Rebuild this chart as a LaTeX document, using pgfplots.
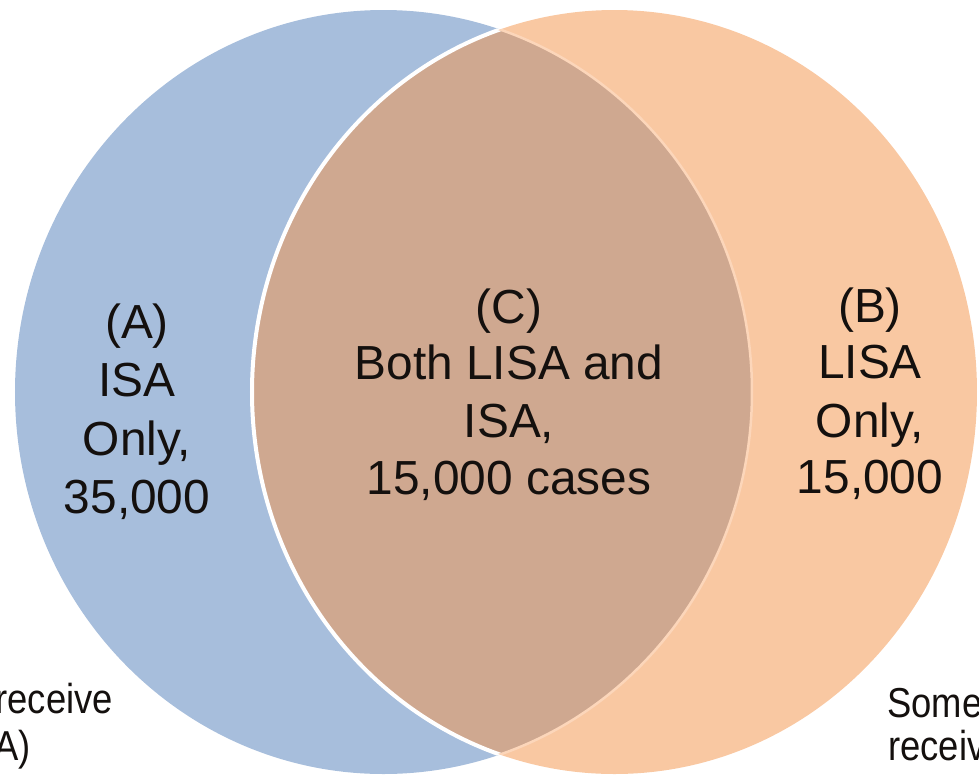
\documentclass[border=0pt]{standalone}
\usepackage{pgfplots}
\pgfplotsset{compat=1.18}
\usepackage{fontspec}
\setmainfont{Liberation Sans}
\definecolor{cblue}{RGB}{167,190,220}
\definecolor{corange}{RGB}{249,200,162}
\definecolor{cboth}{RGB}{207,168,144}
\definecolor{cedge}{RGB}{252,214,186}
\definecolor{ctext}{RGB}{20,16,14}
\newcommand{\regionfont}{\fontsize{48}{57}\selectfont}
\newcommand{\sidefont}{\fontsize{42}{47}\selectfont}
\begin{document}
\begin{tikzpicture}
\useasboundingbox (0,0) rectangle (979bp,776bp);
\clip (0,0) rectangle (979bp,776bp);
\begin{axis}[at={(0,0)}, anchor=south west, x=1bp, y=1bp, y dir=reverse,
  xmin=0, xmax=979, ymin=0, ymax=776, hide axis, clip=false]
% circle A (ISA): centre (383.5,392), radii 368.5 x 382
% circle B (LISA): centre (614.5,392), radii 362.5 x 382
\fill[cblue] (axis cs:383.5,392) ellipse [x radius=368.5, y radius=382];
\fill[corange] (axis cs:614.5,392) ellipse [x radius=362.5, y radius=382];
\begin{scope}
  \clip (axis cs:383.5,392) ellipse [x radius=368.5, y radius=382];
  \fill[cboth] (axis cs:614.5,392) ellipse [x radius=362.5, y radius=382];
  \draw[white, line width=4bp] (axis cs:614.5,392) ellipse [x radius=362.5, y radius=382];
\end{scope}
\begin{scope}
  \clip (axis cs:614.5,392) ellipse [x radius=362.5, y radius=382];
  \draw[cedge, line width=2.5bp] (axis cs:383.5,392) ellipse [x radius=368.5, y radius=382];
\end{scope}
% region labels
\begin{scope}[every node/.style={anchor=base, text=ctext, font=\regionfont, inner sep=0pt}]
\node at (axis cs:137,338) {(A)};
\node at (axis cs:137,396) {ISA};
\node at (axis cs:137,455) {Only,};
\node at (axis cs:137,513) {35,000};
\node at (axis cs:509,323) {(C)};
\node at (axis cs:509,379) {Both LISA and};
\node at (axis cs:509,437) {ISA,};
\node at (axis cs:509,494) {15,000 cases};
\node at (axis cs:870,322) {(B)};
\node at (axis cs:870,378) {LISA};
\node at (axis cs:870,437) {Only,};
\node at (axis cs:870,493) {15,000};
\end{scope}
% side captions (cut by the frame, as in the reference)
\begin{scope}[every node/.style={text=ctext, font=\sidefont, inner sep=0pt}]
\node[anchor=base east] at (axis cs:113,713) {\scalebox{0.87}[1]{receive}};
\node[anchor=base east] at (axis cs:31,760) {\scalebox{0.87}[1]{(ISA)}};
\node[anchor=base west] at (axis cs:887,717) {\scalebox{0.87}[1]{Some}};
\node[anchor=base west] at (axis cs:888,760) {\scalebox{0.87}[1]{receive}};
\end{scope}
\end{axis}
\end{tikzpicture}
\end{document}
